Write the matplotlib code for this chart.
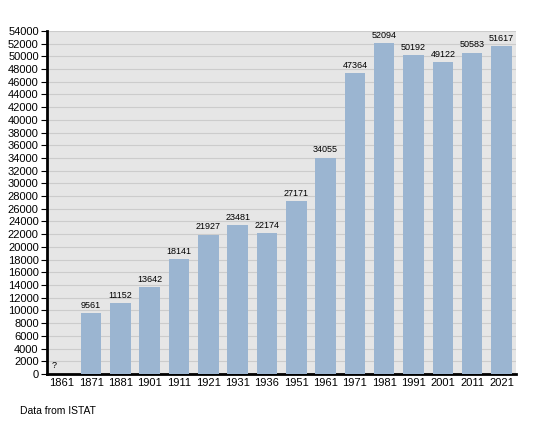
import matplotlib.pyplot as plt

# Population data (ISTAT)
years = ['1861', '1871', '1881', '1901', '1911', '1921', '1931', '1936',
         '1951', '1961', '1971', '1981', '1991', '2001', '2011', '2021']
population = [0, 9561, 11152, 13642, 18141, 21927, 23481, 22174,
              27171, 34055, 47364, 52094, 50192, 49122, 50583, 51617]
labels = ['?', '9561', '11152', '13642', '18141', '21927', '23481', '22174',
          '27171', '34055', '47364', '52094', '50192', '49122', '50583', '51617']

plt.rcParams['font.family'] = ['Liberation Sans', 'DejaVu Sans']

fig = plt.figure(figsize=(5.41, 4.23), dpi=100)
ax = fig.add_axes([0.087, 0.116, 0.867, 0.811])
ax.set_facecolor('#e6e6e6')

x = list(range(len(years)))
ax.bar(x, population, width=0.7, color='#9bb5d1', zorder=3)

for i, (v, t) in enumerate(zip(population, labels)):
    if t == '?':
        ax.text(i - 0.25, 600, t, fontsize=6.5, ha='center', va='bottom', zorder=4)
    else:
        ax.text(i, v + 500, t, fontsize=6.5, ha='center', va='bottom', zorder=4)

ax.set_xlim(-0.5, len(years) - 0.5)
ax.set_ylim(0, 54000)
ax.set_yticks(range(0, 54001, 2000))
ax.set_xticks(x)
ax.set_xticklabels(years)
ax.tick_params(axis='y', labelsize=8, length=4, width=0.8, pad=2)
ax.tick_params(axis='x', labelsize=8, length=0, pad=3)
ax.grid(axis='y', color='#cccccc', linewidth=0.8, zorder=0)
ax.set_axisbelow(True)

for s in ['top', 'right']:
    ax.spines[s].set_visible(False)
ax.spines['left'].set_linewidth(2)
ax.spines['bottom'].set_linewidth(2)

fig.text(20 / 541, 1 - 411 / 423, 'Data from ISTAT', fontsize=7.5, va='center')

fig.savefig('out.png', dpi=100)
